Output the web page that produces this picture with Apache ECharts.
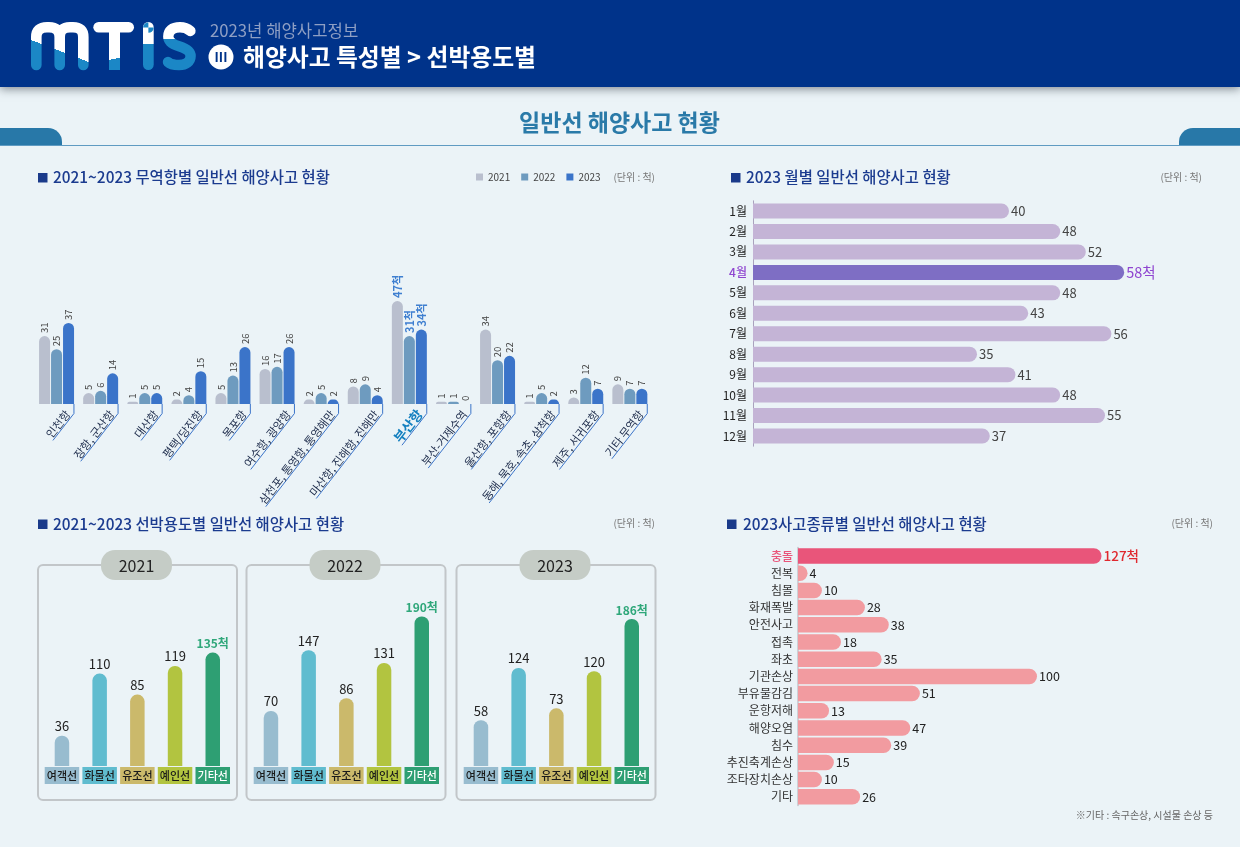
<!DOCTYPE html>
<html><head><meta charset="utf-8">
<style>html,body{margin:0;padding:0;background:#ebf3f7}#c{width:1240px;height:847px}</style>
<script src="https://cdn.jsdelivr.net/npm/echarts@6/dist/echarts.min.js"></script>
</head><body><div id="c"></div>
<script>
const FONT = '"Noto Sans CJK KR","Noto Sans",sans-serif';
const portNames = ['인천항','장항, 군산항','대산항','평택/당진항','목포항','여수항, 광양항','삼천포, 통영항, 통영해만','마산항, 진해항, 진해만','부산항','부산-거제수역','울산항, 포항항','동해, 묵호, 속초, 삼척항','제주, 서귀포항','기타 무역항'];
const ports2021 = [31,5,1,2,5,16,2,8,47,1,34,1,3,9];
const ports2022 = [25,6,5,4,13,17,5,9,31,1,20,5,12,7];
const ports2023 = [37,14,5,15,26,26,2,4,34,0,22,2,7,7];
const highlightPort = '부산항';
const months = ['1월','2월','3월','4월','5월','6월','7월','8월','9월','10월','11월','12월'];
const monthValues = [40,48,52,58,48,43,56,35,41,48,55,37];
const highlightMonth = '4월';
const vesselTypes = ['여객선','화물선','유조선','예인선','기타선'];
const vessels2021 = [36,110,85,119,135];
const vessels2022 = [70,147,86,131,190];
const vessels2023 = [58,124,73,120,186];
const accidentTypes = ['충돌','전복','침몰','화재폭발','안전사고','접촉','좌초','기관손상','부유물감김','운항저해','해양오염','침수','추진축계손상','조타장치손상','기타'];
const accidentValues = [127,4,10,28,38,18,35,100,51,13,47,39,15,10,26];
const highlightAccident = '충돌';

const yearColors = ['#b9bfce','#6e9bbf','#3b74c9'];
const vesselColors = ['#98bccf','#60bccf','#cbb96b','#b2c440','#2e9f73'];

const mctx = document.createElement('canvas').getContext('2d');
function textW(t, font){ mctx.font = font; return mctx.measureText(t).width; }

const grids = [
  {left:34.5, top:272.6, width:617.4, height:131.4},
  {left:753, top:200.8, width:448, height:245.4},
  {left:43.1, top:598, width:188.5, height:168},
  {left:252.1, top:608.6, width:188.5, height:157.4},
  {left:462.1, top:608, width:188.5, height:158},
  {left:798, top:547.4, width:358.5, height:258}
];
const xAxes = [], yAxes = [], series = [];

// ---- ports
xAxes.push({gridIndex:0,type:'category',data:portNames,axisLine:{show:false},axisTick:{show:false},axisLabel:{show:false}});
yAxes.push({gridIndex:0,type:'value',min:0,max:60,show:false});
[ports2021,ports2022,ports2023].forEach((arr,k)=>{
  series.push({
    name:String(2021+k),type:'bar',xAxisIndex:0,yAxisIndex:0,barWidth:11,barGap:'9%',
    itemStyle:{color:yearColors[k],borderRadius:[6,6,0,0]},
    label:{show:true,position:'top',rotate:90,align:'left',verticalAlign:'middle',distance:3,fontSize:9.5,color:'#444',fontFamily:FONT},
    data:arr.map((v,i)=> portNames[i]===highlightPort
      ? {value:v,label:{formatter:'{c}척',fontSize:11,fontWeight:'bold',color:'#3f7fd0'}}
      : v)
  });
});
series.push({
  type:'custom',xAxisIndex:0,yAxisIndex:0,silent:true,clip:false,z:5,
  data:portNames.map((n,i)=>[i,0]),
  encode:{x:0,y:1},
  renderItem:function(params,api){
    const i = api.value(0), name = portNames[i], hi = name===highlightPort;
    const p = api.coord([i,0]);
    const font = (hi?'bold 13.5px ':'11.3px ')+FONT;
    const ang = 52*Math.PI/180;
    const L = textW(name,font)+3;
    const x0 = p[0]+17.4, y0 = p[1]+9.5;
    return {type:'group',children:[
      {type:'polyline',shape:{points:[[x0,p[1]],[x0,y0],[x0-L*Math.cos(ang),y0+L*Math.sin(ang)]]},style:{stroke:'#3b74c9',lineWidth:1,fill:null}},
      {type:'text',x:x0-3*Math.cos(ang),y:y0+3*Math.sin(ang)-0.5,rotation:ang,style:{text:name,font:font,fill:hi?'#1580c0':'#22304f',align:'right',verticalAlign:'bottom'}}
    ]};
  }
});

// ---- months
xAxes.push({gridIndex:1,type:'value',min:0,max:70,show:false});
yAxes.push({gridIndex:1,type:'category',inverse:true,
  data:months.map(m=>m===highlightMonth?{value:m,textStyle:{color:'#8f45d0',fontWeight:500}}:m),
  axisLine:{show:true,lineStyle:{color:'#a9a2bd',width:1}},axisTick:{show:false},
  axisLabel:{margin:6,fontSize:12,color:'#222',fontFamily:FONT,interval:0}});
series.push({type:'bar',xAxisIndex:1,yAxisIndex:1,barWidth:15,
  label:{show:true,position:'right',distance:2,fontSize:13,color:'#444',fontFamily:FONT},
  data:monthValues.map((v,i)=>months[i]===highlightMonth
    ? {value:v,itemStyle:{color:'#7e6ec4',borderRadius:[0,8,8,0]},label:{formatter:'{c}척',fontSize:14.5,color:'#8f45d0'}}
    : {value:v,itemStyle:{color:'#c4b4d6',borderRadius:[0,8,8,0]}})});

// ---- vessels
const rich = {};
vesselTypes.forEach((t,i)=>{rich['k'+i]={width:34.5,height:17,lineHeight:17,align:'center',backgroundColor:vesselColors[i],color:i===4?'#fff':'#1a1a1a',fontSize:11,fontFamily:FONT,fontWeight:500};});
[vessels2021,vessels2022,vessels2023].forEach((arr,k)=>{
  const g = 2+k;
  xAxes.push({gridIndex:g,type:'category',data:vesselTypes,axisLine:{show:false},axisTick:{show:false},
    axisLabel:{interval:0,margin:1,formatter:(v,i)=>`{k${i}|${v}}`,rich:rich}});
  yAxes.push({gridIndex:g,type:'value',min:0,max:200,show:false});
  series.push({type:'bar',xAxisIndex:g,yAxisIndex:g,barWidth:14.5,
    label:{show:true,position:'top',distance:3,fontSize:13,color:'#222',fontFamily:FONT},
    data:arr.map((v,i)=>({value:v,itemStyle:{color:vesselColors[i],borderRadius:[7,7,0,0]},
      label:i===4?{formatter:'{c}척',fontWeight:'bold',fontSize:12,color:'#2fa77a'}:undefined}))});
});

// ---- accident types
xAxes.push({gridIndex:5,type:'value',min:0,max:150,show:false});
yAxes.push({gridIndex:5,type:'category',inverse:true,
  data:accidentTypes.map(m=>m===highlightAccident?{value:m,textStyle:{color:'#e9557a',fontWeight:500}}:m),
  axisLine:{show:true,lineStyle:{color:'#c2c6cc',width:1.5}},axisTick:{show:false},
  axisLabel:{margin:5,fontSize:12,color:'#333',fontFamily:FONT,interval:0}});
series.push({type:'bar',xAxisIndex:5,yAxisIndex:5,barWidth:15.5,
  label:{show:true,position:'right',distance:2,fontSize:12.5,color:'#222',fontFamily:FONT},
  data:accidentValues.map((v,i)=>accidentTypes[i]===highlightAccident
    ? {value:v,itemStyle:{color:'#e9557a',borderRadius:[0,8,8,0]},label:{formatter:'{c}척',fontSize:13.5,fontWeight:500,color:'#e0282e'}}
    : {value:v,itemStyle:{color:'#f29ba0',borderRadius:[0,8,8,0]}})});

// ---- decoration
const WHITE='#ffffff', LOGO='#1b87c6';
function cut(px,py,qx,qy){ // white above the line P-Q, blue below
  const dx=qx-px, dy=qy-py, n=Math.hypot(dx,dy);
  return {type:'linear',global:true,x:px,y:py,x2:px-dy/n*2,y2:py+dx/n*2,colorStops:[{offset:0,color:WHITE},{offset:0,color:LOGO},{offset:1,color:LOGO}]};
}
function txt(text,x,y,font,fill,align){return {type:'text',x:x,y:y,silent:true,style:{text:text,font:font+' '+FONT,fill:fill,align:align||'left',verticalAlign:'middle'}};}
function sq(x,y){return {type:'rect',shape:{x:x,y:y,width:9.5,height:9.5},style:{fill:'#1a3a8a'}};}
function panel(x,year){return [
  {type:'rect',shape:{x:x,y:565,width:199,height:235,r:5},style:{fill:'none',stroke:'#c2c6c9',lineWidth:2}},
  {type:'rect',shape:{x:x+63,y:550,width:71,height:30,r:14},style:{fill:'#c5ccc6'}},
  txt(year,x+98.5,565.5,'16px','#222','center')
];}
const mPath='M36.3,65 V37 Q36.3,27.3 47,27.3 H49 Q59.7,27.3 59.7,37 V65 M59.7,37 Q59.7,27.3 70,27.3 H73 Q83.3,27.3 83.3,37 V65';
const sPath='M190.4,31 Q186,27.3 180,27.3 C172,27.3 168.3,31 168.3,36.5 C168.3,42 173,44.5 179,46.3 C186,48.5 190.6,51 190.6,56 C190.6,61.5 186,65 179,65 C174,65 170,64 168,62';
series.push({type:'custom',coordinateSystem:'none',silent:true,z:3,data:[[0]],
  renderItem:function(){return {type:'group',children:[
    {type:'path',shape:{pathData:mPath},style:{fill:'none',stroke:cut(31,40,88,61.7),lineWidth:10.6,lineCap:'round'}},
    {type:'path',shape:{pathData:sPath},style:{fill:'none',stroke:cut(163,39.5,196,38.5),lineWidth:10.4,lineCap:'round'}}
  ]};}});
const graphic = [
  {type:'rect',shape:{x:0,y:0,width:1240,height:87},style:{fill:'#00338a',shadowBlur:9,shadowColor:'rgba(40,50,60,0.55)',shadowOffsetY:2}},
  {type:'rect',shape:{x:93.3,y:22,width:40.7,height:10.6,r:5.3},style:{fill:WHITE}},
  {type:'rect',shape:{x:109,y:30,width:11,height:40},style:{fill:cut(109,60,120,57.6)}},
  {type:'rect',shape:{x:143,y:22,width:10.7,height:48,r:5.3},style:{fill:cut(143,44.5,154,43.5)}},
  {type:'sector',shape:{cx:148.4,cy:27.5,r:5.3,startAngle:Math.PI,endAngle:Math.PI*1.5},style:{fill:LOGO}},
  {type:'sector',shape:{cx:148.4,cy:27.5,r:5.3,startAngle:0,endAngle:Math.PI/2},style:{fill:LOGO}},
  txt('2023년 해양사고정보',210,31,'16.7px','#8e9fc4'),
  {type:'circle',shape:{cx:221,cy:57,r:12.5},style:{fill:'#fff'}},
  txt('III',221,57,'bold 13px','#00338a','center'),
  txt('해양사고 특성별 > 선박용도별',243,56.5,'bold 23.8px','#fff'),
  txt('일반선 해양사고 현황',619.5,122,'bold 23px','#2a7aa8','center'),
  {type:'line',shape:{x1:0,y1:145.5,x2:1240,y2:145.5},style:{stroke:'#5f9bc2',lineWidth:1}},
  {type:'rect',shape:{x:-20,y:128,width:82,height:17,r:[0,14,0,0]},style:{fill:'#2878a8'}},
  {type:'rect',shape:{x:1179,y:128,width:82,height:17,r:[14,0,0,0]},style:{fill:'#2878a8'}},
  sq(38,173), txt('2021~2023 무역항별 일반선 해양사고 현황',53,177.5,'500 15.4px','#1b3b8f'),
  txt('(단위 : 척)',655,177.5,'10px','#777','right'),
  sq(731,173), txt('2023 월별 일반선 해양사고 현황',746,177.5,'500 15.4px','#1b3b8f'),
  txt('(단위 : 척)',1202,177.5,'10px','#777','right'),
  sq(38,519.5), txt('2021~2023 선박용도별 일반선 해양사고 현황',53,524,'500 15.4px','#1b3b8f'),
  txt('(단위 : 척)',655,523,'10px','#777','right'),
  sq(727,519.5), txt('2023사고종류별 일반선 해양사고 현황',743,524,'500 15.4px','#1b3b8f'),
  txt('(단위 : 척)',1213,523,'10px','#777','right'),
  txt('※기타 : 속구손상, 시설물 손상 등',1213,815,'10px','#666','right'),
  ...panel(38,'2021'),...panel(246.5,'2022'),...panel(456.5,'2023')
];

const chart = echarts.init(document.getElementById('c'),null,{renderer:'canvas'});
chart.setOption({
  animation:false,backgroundColor:'#ebf3f7',textStyle:{fontFamily:FONT},
  legend:{data:['2021','2022','2023'],left:471,top:167,icon:'rect',itemWidth:7,itemHeight:7,itemGap:11,
    textStyle:{fontSize:10,color:'#444',fontFamily:FONT}},
  grid:grids,xAxis:xAxes,yAxis:yAxes,series:series,graphic:{elements:graphic}
});
</script></body></html>
